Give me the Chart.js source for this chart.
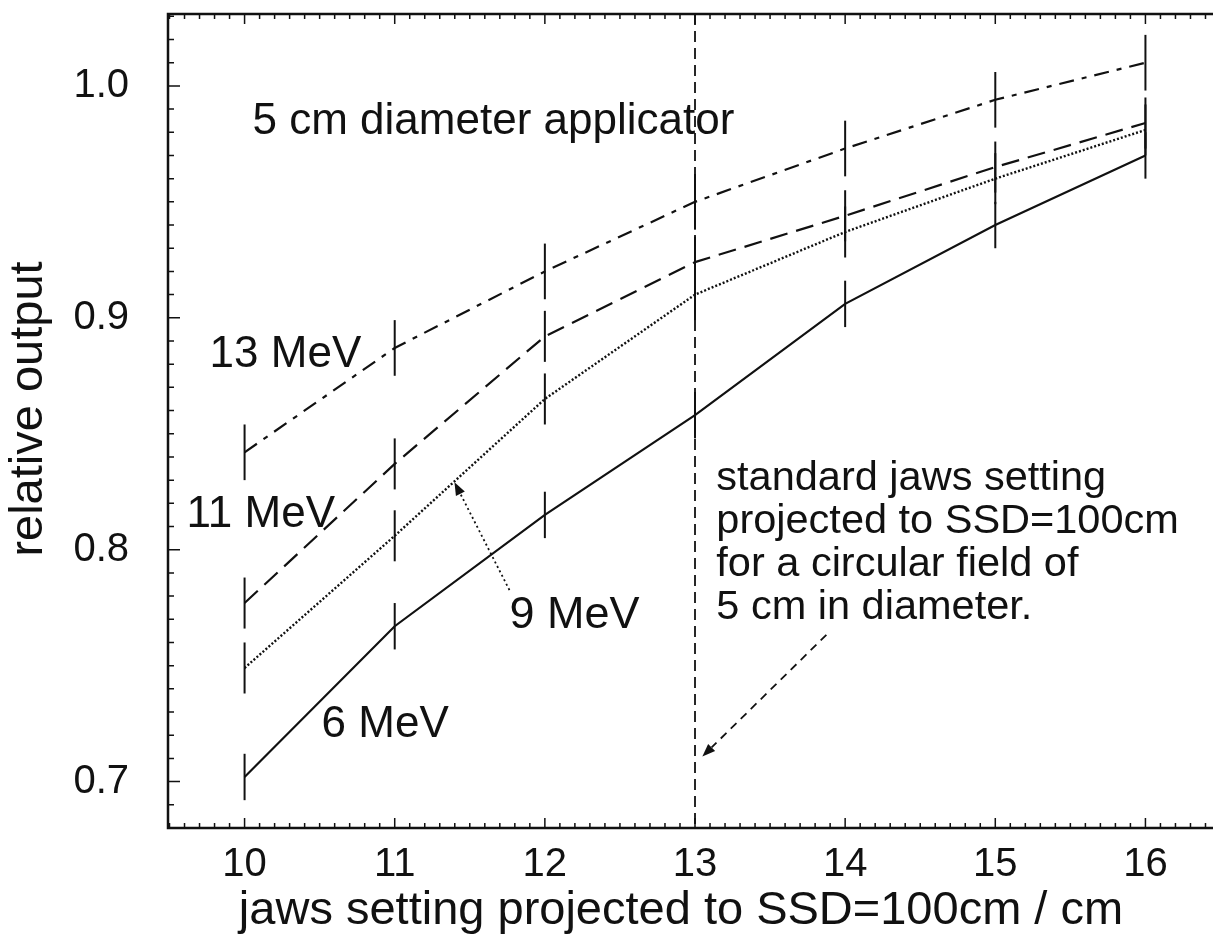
<!DOCTYPE html>
<html>
<head>
<meta charset="utf-8">
<script src="https://cdn.jsdelivr.net/npm/chart.js@4/dist/chart.umd.min.js"></script>
<style>
  html, body { margin: 0; padding: 0; background: #fff; }
  canvas { display: block; }
</style>
</head>
<body>
<canvas id="chart" width="1213" height="943"></canvas>
<script>
// ---- data -----------------------------------------------------------------
const jaws   = [10, 11, 12, 13, 14, 15, 16];
const out6   = [0.702, 0.767, 0.815, 0.858, 0.906, 0.940, 0.970];
const out9   = [0.749, 0.806, 0.865, 0.910, 0.937, 0.960, 0.981];
const out11  = [0.777, 0.837, 0.892, 0.924, 0.944, 0.965, 0.984];
const out13  = [0.842, 0.887, 0.920, 0.950, 0.973, 0.994, 1.010];
const errs   = [0.010, 0.011, 0.011, 0.012];   // half-length of the error bars (6, 9, 11, 13 MeV)
const seriesNames = ['6 MeV', '9 MeV', '11 MeV', '13 MeV'];
const xTickVals = [10, 11, 12, 13, 14, 15, 16];
const xTickLabels = ['10', '11', '12', '13', '14', '15', '16'];
const yTickVals = [0.7, 0.8, 0.9, 1.0];
const yTickLabels = ['0.7', '0.8', '0.9', '1.0'];
const refJaw = 13;   // standard jaws setting
const xTitle = 'jaws setting projected to SSD=100cm / cm';
const yTitle = 'relative output';

const FONT = '"Liberation Sans", Arial, Helvetica, sans-serif';
const INK = '#111';

// ---- annotations (data coordinates) ----------------------------------------
const labels = [
  { text: '5 cm diameter applicator', x: 10.053, y: 0.9794, size: 44 },
  { text: '13 MeV', x: 9.767, y: 0.8787, size: 44 },
  { text: '11 MeV', x: 9.614, y: 0.8098, size: 44 },
  { text: '9 MeV',  x: 11.764, y: 0.7663, size: 45 },
  { text: '6 MeV',  x: 10.513, y: 0.7194, size: 44 },
  { text: 'standard jaws setting',  x: 13.142, y: 0.8257, size: 41.5 },
  { text: 'projected to SSD=100cm', x: 13.142, y: 0.8072, size: 41.5 },
  { text: 'for a circular field of', x: 13.142, y: 0.7887, size: 41.5 },
  { text: '5 cm in diameter.',      x: 13.142, y: 0.7702, size: 41.5 },
];
const arrows = [
  { from: [11.764, 0.7826], to: [11.398, 0.8291], dash: [2, 3] },
  { from: [13.875, 0.7633], to: [13.049, 0.7108], dash: [8, 6] },
];

const seriesValues = [out6, out9, out11, out13];

// Inward ticks, frame, error bars, reference line and text
const decorPlugin = {
  id: 'decor',
  afterBuildTicks(chart) {
    chart.scales.x.ticks = xTickVals.map((v, i) => ({ value: v, label: xTickLabels[i] }));
    chart.scales.y.ticks = yTickVals.map((v, i) => ({ value: v, label: yTickLabels[i] }));
  },
  afterDatasetsDraw(chart) {
    const { ctx, chartArea: a } = chart;
    const xs = chart.scales.x, ys = chart.scales.y;
    ctx.save();
    ctx.strokeStyle = INK;
    ctx.fillStyle = INK;

    // error bars
    ctx.lineWidth = 2;
    ctx.setLineDash([]);
    seriesValues.forEach((vals, i) => {
      vals.forEach((v, j) => {
        const px = xs.getPixelForValue(jaws[j]);
        ctx.beginPath();
        ctx.moveTo(px, ys.getPixelForValue(v - errs[i]));
        ctx.lineTo(px, ys.getPixelForValue(v + errs[i]));
        ctx.stroke();
      });
    });

    // vertical dashed reference line
    const rx = xs.getPixelForValue(refJaw);
    ctx.lineWidth = 1.8;
    ctx.setLineDash([11, 6]);
    ctx.beginPath();
    ctx.moveTo(rx, a.top);
    ctx.lineTo(rx, a.bottom);
    ctx.stroke();

    // arrows
    arrows.forEach(ar => {
      const x0 = xs.getPixelForValue(ar.from[0]), y0 = ys.getPixelForValue(ar.from[1]);
      const x1 = xs.getPixelForValue(ar.to[0]),   y1 = ys.getPixelForValue(ar.to[1]);
      const ang = Math.atan2(y1 - y0, x1 - x0);
      const hl = 13, hw = 5;
      const bx = x1 - hl * Math.cos(ang), by = y1 - hl * Math.sin(ang);
      ctx.lineWidth = 1.8;
      ctx.setLineDash(ar.dash);
      ctx.beginPath();
      ctx.moveTo(x0, y0);
      ctx.lineTo(bx, by);
      ctx.stroke();
      ctx.setLineDash([]);
      ctx.beginPath();
      ctx.moveTo(x1, y1);
      ctx.lineTo(bx + hw * Math.sin(ang), by - hw * Math.cos(ang));
      ctx.lineTo(bx - hw * Math.sin(ang), by + hw * Math.cos(ang));
      ctx.closePath();
      ctx.fill();
    });

    // text
    ctx.textAlign = 'left';
    ctx.textBaseline = 'alphabetic';
    labels.forEach(l => {
      ctx.font = l.size + 'px ' + FONT;
      ctx.fillText(l.text, xs.getPixelForValue(l.x), ys.getPixelForValue(l.y));
    });

    // frame (left, top, bottom)
    ctx.setLineDash([]);
    ctx.lineWidth = 2.5;
    ctx.beginPath();
    ctx.moveTo(a.right, a.top);
    ctx.lineTo(a.left, a.top);
    ctx.lineTo(a.left, a.bottom);
    ctx.lineTo(a.right, a.bottom);
    ctx.stroke();

    // inward ticks
    ctx.lineWidth = 1.5;
    ctx.beginPath();
    for (let k = 69; k <= 103; k++) {
      const py = ys.getPixelForValue(k / 100);
      const len = k % 10 === 0 ? 12 : 6;
      ctx.moveTo(a.left, py);
      ctx.lineTo(a.left + len, py);
    }
    for (let k = 95; k <= 164; k++) {
      const px = xs.getPixelForValue(k / 10);
      const len = k % 10 === 0 ? 10 : 5;
      ctx.moveTo(px, a.bottom);
      ctx.lineTo(px, a.bottom - len);
      ctx.moveTo(px, a.top);
      ctx.lineTo(px, a.top + len);
    }
    ctx.stroke();

    // axis titles
    ctx.font = '47px ' + FONT;
    ctx.textAlign = 'center';
    ctx.fillText(xTitle, 681, 924);
    ctx.translate(42, 409);
    ctx.rotate(-Math.PI / 2);
    ctx.fillText(yTitle, 0, 0);
    ctx.restore();
  },
};

const lineStyle = (dash, width) => ({
  borderColor: INK,
  borderWidth: width,
  borderDash: dash,
  pointRadius: 0,
  tension: 0,
  fill: false,
});

const toPoints = vals => vals.map((v, i) => ({ x: jaws[i], y: v }));

new Chart(document.getElementById('chart'), {
  type: 'line',
  data: {
    datasets: [
      { label: seriesNames[0], data: toPoints(out6),  ...lineStyle([], 2.2) },
      { label: seriesNames[1], data: toPoints(out9),  ...lineStyle([2, 2], 2.4) },
      { label: seriesNames[2], data: toPoints(out11), ...lineStyle([18, 9], 2.2) },
      { label: seriesNames[3], data: toPoints(out13), ...lineStyle([15, 8, 5, 8], 2.2) },
    ],
  },
  plugins: [decorPlugin],
  options: {
    responsive: false,
    animation: false,
    layout: { padding: { top: 14, right: 0, left: 0, bottom: 0 } },
    plugins: { legend: { display: false }, tooltip: { enabled: false } },
    scales: {
      x: {
        type: 'linear', min: 9.49, max: 16.45,
        grid: { display: false },
        border: { display: false },
        ticks: { color: INK, padding: 5, font: { size: 40, family: FONT } },
        afterFit(scale) { scale.height = 115; scale.paddingLeft = 0; scale.paddingRight = 0; },
      },
      y: {
        type: 'linear', min: 0.68, max: 1.031,
        grid: { display: false },
        border: { display: false },
        ticks: { color: INK, padding: 31, font: { size: 40, family: FONT } },
        afterFit(scale) { scale.width = 168; scale.paddingTop = 0; scale.paddingBottom = 0; },
      },
    },
  },
});
</script>
</body>
</html>
